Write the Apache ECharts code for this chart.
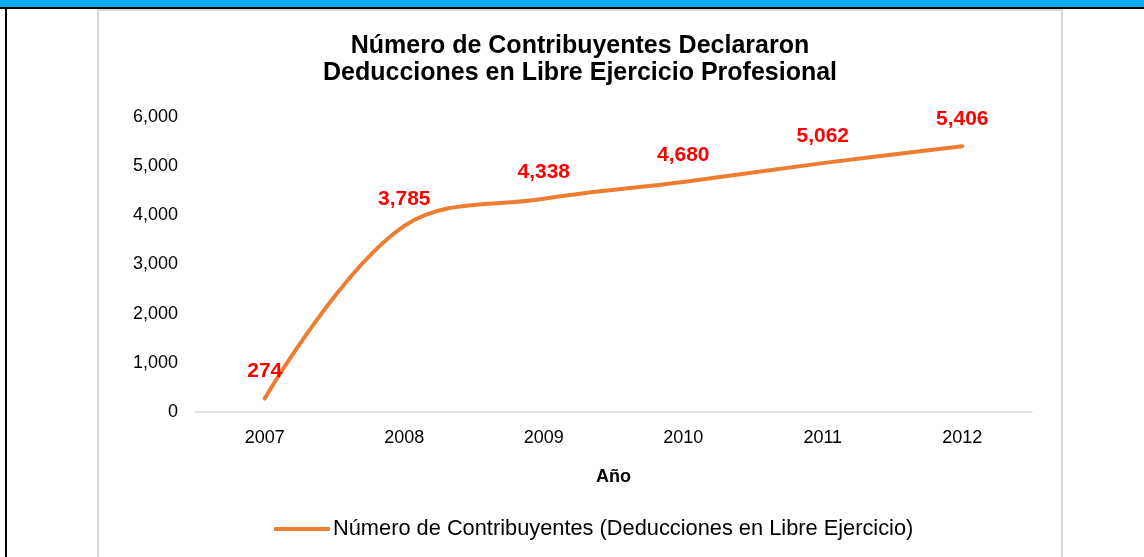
<!DOCTYPE html>
<html>
<head>
<meta charset="utf-8">
<script src="https://cdn.jsdelivr.net/npm/echarts@6/dist/echarts.min.js"></script>
<style>
  html, body { margin: 0; padding: 0; width: 1144px; height: 557px; overflow: hidden; background: #fff; }
  .strip { position: absolute; left: 0; top: 0; width: 1144px; height: 7px; background: #00b0f0; }
  .rule { position: absolute; left: 0; top: 7px; width: 1144px; height: 2px; background: #000; }
  .side { position: absolute; left: 5px; top: 7px; width: 2px; height: 550px; background: #000; }
  .chart { position: absolute; left: 97px; top: 9px; width: 962px; height: 548px;
           border: 2px solid #d9d9d9; border-bottom: none; background: #fff; }
</style>
</head>
<body>
<div class="strip"></div>
<div class="rule"></div>
<div class="side"></div>
<div class="chart" id="chart"></div>
<script>
const years = ['2007', '2008', '2009', '2010', '2011', '2012'];
const contribuyentes = [274, 3785, 4338, 4680, 5062, 5406];
const yTicks = [0, 1000, 2000, 3000, 4000, 5000, 6000];

const fmt = (v) => Number(v).toLocaleString('en-US');
const font = '"Liberation Sans", Arial, sans-serif';
const serieName = 'Número de Contribuyentes (Deducciones en Libre Ejercicio)';

const myChart = echarts.init(document.getElementById('chart'), null, { renderer: 'canvas' });
myChart.setOption({
  animation: false,
  textStyle: { fontFamily: font },
  title: {
    text: 'Número de Contribuyentes Declararon\nDeducciones en Libre Ejercicio Profesional',
    left: 'center',
    top: 22,
    padding: [0, 0, 0, 12],
    textStyle: { fontFamily: font, fontSize: 25, fontWeight: 'bold', color: '#000', lineHeight: 27 }
  },
  grid: {
    left: 96,
    right: 29,
    top: 106,
    bottom: 147,
    containLabel: false,
    outerBoundsMode: 'none'
  },
  xAxis: {
    type: 'category',
    data: years,
    boundaryGap: true,
    name: 'Año',
    nameLocation: 'middle',
    nameGap: 56,
    nameTextStyle: { fontFamily: font, fontSize: 18, fontWeight: 'bold', color: '#000' },
    axisTick: { show: false },
    axisLine: { lineStyle: { color: '#d9d9d9', width: 1.5 } },
    axisLabel: { fontFamily: font, fontSize: 18, color: '#000', margin: 17 }
  },
  yAxis: {
    type: 'value',
    min: yTicks[0],
    max: yTicks[yTicks.length - 1],
    interval: 1000,
    splitLine: { show: false },
    axisLine: { show: false },
    axisTick: { show: false },
    axisLabel: { fontFamily: font, fontSize: 18, color: '#000', margin: 17, formatter: (v) => fmt(v) }
  },
  legend: {
    left: 170,
    top: 502,
    icon: 'roundRect',
    itemWidth: 56,
    itemHeight: 4,
    itemStyle: { color: '#ed7d31', opacity: 1 },
    textStyle: { fontFamily: font, fontSize: 21.8, color: '#000', padding: [0, 0, 0, -2] },
    data: [serieName]
  },
  series: [{
    name: serieName,
    type: 'line',
    data: contribuyentes,
    smooth: 0.37,
    showSymbol: true,
    symbol: 'circle',
    symbolSize: 1,
    itemStyle: { color: '#ed7d31' },
    color: '#ed7d31',
    lineStyle: { color: '#ed7d31', width: 4, cap: 'round', join: 'round' },
    label: {
      show: true,
      position: 'top',
      distance: 16,
      fontFamily: font,
      fontSize: 21,
      fontWeight: 'bold',
      color: '#ff0000',
      formatter: (p) => fmt(p.value)
    }
  }]
});
</script>
</body>
</html>
